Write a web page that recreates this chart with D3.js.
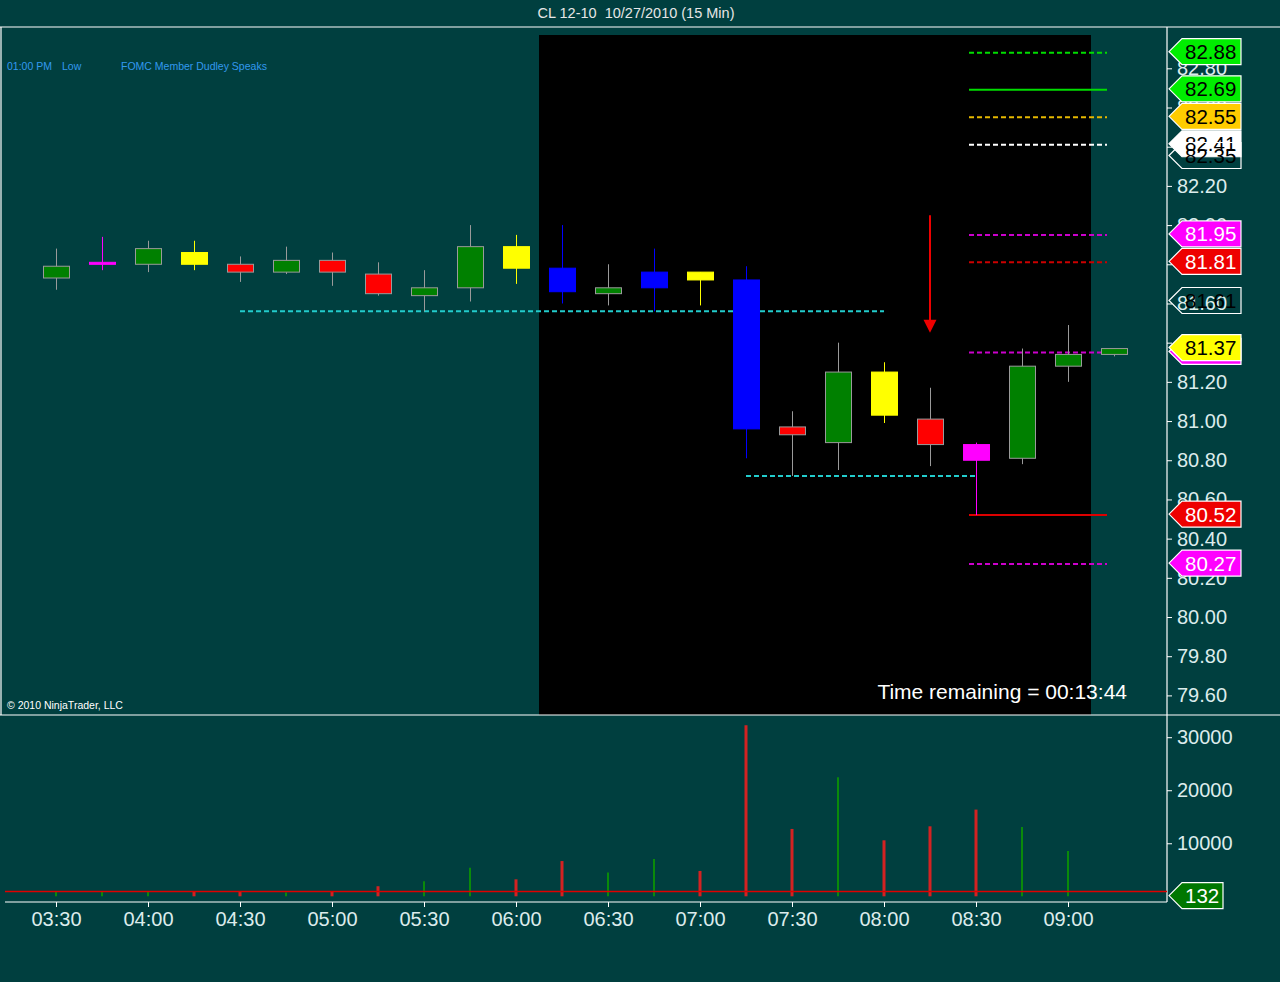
<!DOCTYPE html>
<html>
<head>
<meta charset="utf-8">
<script src="https://cdn.jsdelivr.net/npm/d3@7/dist/d3.min.js"></script>
<style>
    html, body { margin: 0; padding: 0; background: #003f3f; }
    svg { display: block; font-family: "Liberation Sans", Arial, sans-serif; }
    .axis text { fill: #dcecec; font-size: 20px; }
    .axis line { stroke: #ffffff; }
    .axis path { display: none; }
</style>
</head>
<body>
<svg id="chart" width="1280" height="982"></svg>
<script>
(function() {
    'use strict';

    // bar times, 15 min
    var times = ['03:30', '03:45', '04:00', '04:15', '04:30', '04:45', '05:00', '05:15',
                 '05:30', '05:45', '06:00', '06:15', '06:30', '06:45', '07:00', '07:15',
                 '07:30', '07:45', '08:00', '08:15', '08:30', '08:45', '09:00', '09:15'];
    var opens  = [81.73, 81.80, 81.80, 81.86, 81.80, 81.76, 81.82, 81.75, 81.64, 81.68, 81.89, 81.78,
                  81.65, 81.68, 81.76, 81.72, 80.97, 80.89, 81.25, 81.01, 80.88, 80.81, 81.28, 81.34];
    var highs  = [81.88, 81.94, 81.92, 81.92, 81.84, 81.89, 81.86, 81.81, 81.77, 82.00, 81.95, 82.00,
                  81.80, 81.88, 81.76, 81.79, 81.05, 81.40, 81.30, 81.17, 80.89, 81.37, 81.49, 81.37];
    var lows   = [81.67, 81.77, 81.76, 81.77, 81.71, 81.75, 81.69, 81.64, 81.56, 81.61, 81.70, 81.60,
                  81.59, 81.56, 81.59, 80.81, 80.72, 80.75, 80.99, 80.77, 80.52, 80.78, 81.20, 81.33];
    var closes = [81.79, 81.81, 81.88, 81.80, 81.76, 81.82, 81.76, 81.65, 81.68, 81.89, 81.78, 81.66,
                  81.68, 81.76, 81.72, 80.96, 80.93, 81.25, 81.03, 80.88, 80.80, 81.28, 81.34, 81.37];
    var paint  = ['green', 'magenta', 'green', 'yellow', 'red', 'green', 'red', 'red', 'green', 'green',
                  'yellow', 'blue', 'green', 'blue', 'yellow', 'blue', 'red', 'green', 'yellow', 'red',
                  'magenta', 'green', 'green', 'green'];
    var volumes = [800, 800, 800, 1000, 1000, 700, 900, 1900, 2850, 5400, 3200, 6650,
                   4470, 7050, 4780, 32260, 12700, 22450, 10560, 13200, 16350, 13080, 8550, 132];
    var volDir  = ['up', 'up', 'up', 'down', 'down', 'up', 'down', 'down', 'up', 'up', 'down', 'down',
                   'up', 'up', 'down', 'down', 'down', 'up', 'down', 'down', 'down', 'up', 'up', 'up'];
    var volumeRefLevel = 900;
    var lastVolume = 132;

    var priceTicks = [79.6, 79.8, 80.0, 80.2, 80.4, 80.6, 80.8, 81.0, 81.2, 81.4, 81.6, 81.8,
                      82.0, 82.2, 82.4, 82.6, 82.8];
    var volumeTicks = [10000, 20000, 30000];

    // session shading
    var sessionFrom = '06:15', sessionTo = '09:00';

    // cyan dashed levels
    var cyanLevels = [81.56, 80.72];
    var cyanFrom   = ['04:30', '07:15'];
    var cyanTo     = ['08:00', '08:30'];

    // right side pivot lines
    var pivotPrices = [82.88, 82.69, 82.55, 82.41, 81.95, 81.81, 81.35, 80.52, 80.27];
    var pivotKinds  = ['g', 'gs', 'gold', 'w', 'm', 'dr', 'm', 'rs', 'm'];
    var pivotFrom = '08:30', pivotTo = '09:15';

    // right axis markers, drawn in this order
    var markerPrices = [82.88, 82.69, 82.55, 82.41, 82.35, 81.95, 81.81, 81.61, 81.35, 81.37, 80.52, 80.27];
    var markerKinds  = ['g', 'g', 'gold', 'w', 'o', 'm', 'r', 'o', 'm', 'y', 'r', 'm'];

    // signal arrow
    var arrowTime = '08:15', arrowFrom = 82.05, arrowTo = 81.45;

    var styles = {
        g:    {line: '#00dd00', dash: '5,3', fill: '#00ee00', text: '#000'},
        gs:   {line: '#00dd00', dash: null},
        gold: {line: '#e6b800', dash: '5,3', fill: '#ffcc00', text: '#000'},
        w:    {line: '#ffffff', dash: '5,3', fill: '#ffffff', text: '#000'},
        o:    {fill: 'none', text: '#000'},
        m:    {line: '#cc00cc', dash: '5,3', fill: '#ff00ff', text: '#fff'},
        dr:   {line: '#cc0000', dash: '5,3'},
        r:    {fill: '#ee0000', text: '#fff'},
        rs:   {line: '#dd0000', dash: null},
        y:    {fill: '#ffff00', text: '#000'}
    };
    var candleColors = {
        green:   {body: '#008000', wick: '#9a9a9a'},
        red:     {body: '#ff0000', wick: '#9a9a9a'},
        yellow:  {body: '#ffff00', wick: '#ffff00'},
        blue:    {body: '#0000ff', wick: '#0000ff'},
        magenta: {body: '#ff00ff', wick: '#ff00ff'}
    };

    var parse = d3.timeParse('%H:%M');
    var bars = times.map(function(t, i) {
        return {t: parse(t), o: opens[i], h: highs[i], l: lows[i], c: closes[i],
                paint: paint[i], v: volumes[i], dir: volDir[i]};
    });

    var svg = d3.select('#chart');
    var W = 1280, axisX = 1167;
    var priceTop = 35, priceBottom = 715, volTop = 716, volBottom = 902;

    var x = d3.scaleTime()
        .domain([parse('03:30'), parse('09:15')])
        .range([56, 1114]);
    var halfBar = (x(parse('03:45')) - x(parse('03:30'))) / 2;
    var y = d3.scaleLinear().domain([79.5, 82.97]).range([priceBottom, priceTop]);
    var yv = d3.scaleLinear().domain([0, 34000]).range([896.3, volTop]);

    svg.append('rect').attr('width', W).attr('height', 982).attr('fill', '#003f3f');

    // title
    svg.append('text')
        .attr('x', 636).attr('y', 18)
        .attr('text-anchor', 'middle')
        .attr('fill', '#e6e6e6')
        .style('font-size', '14.5px')
        .style('white-space', 'pre')
        .text('CL 12-10  10/27/2010 (15 Min)');

    // session background
    svg.append('rect')
        .attr('x', x(parse(sessionFrom)) - halfBar)
        .attr('y', priceTop)
        .attr('width', x(parse(sessionTo)) - x(parse(sessionFrom)) + 2 * halfBar)
        .attr('height', priceBottom - priceTop)
        .attr('fill', '#000000');

    // frame
    var frame = svg.append('g').attr('stroke', '#ffffff').attr('stroke-width', 1.2);
    frame.append('line').attr('x1', 0).attr('x2', W).attr('y1', 27).attr('y2', 27);
    frame.append('line').attr('x1', 1).attr('x2', 1).attr('y1', 27).attr('y2', priceBottom);
    frame.append('line').attr('x1', 0).attr('x2', W).attr('y1', priceBottom).attr('y2', priceBottom);
    frame.append('line').attr('x1', 5).attr('x2', axisX).attr('y1', volBottom).attr('y2', volBottom);
    frame.append('line').attr('x1', axisX).attr('x2', axisX).attr('y1', 27).attr('y2', volBottom);

    // event text
    var ev = svg.append('g').attr('fill', '#3399ee').style('font-size', '10.5px');
    ev.append('text').attr('x', 7).attr('y', 70).text('01:00 PM');
    ev.append('text').attr('x', 62).attr('y', 70).text('Low');
    ev.append('text').attr('x', 121).attr('y', 70).text('FOMC Member Dudley Speaks');

    svg.append('text')
        .attr('x', 7).attr('y', 709)
        .attr('fill', '#ffffff')
        .style('font-size', '10.5px')
        .text('\u00a9 2010 NinjaTrader, LLC');

    // cyan levels
    svg.append('g').selectAll('line')
        .data(cyanLevels)
        .enter()
        .append('line')
        .attr('x1', function(d, i) { return x(parse(cyanFrom[i])); })
        .attr('x2', function(d, i) { return x(parse(cyanTo[i])); })
        .attr('y1', function(d) { return y(d); })
        .attr('y2', function(d) { return y(d); })
        .attr('stroke', '#22cccc')
        .attr('stroke-width', 2)
        .attr('stroke-dasharray', '5,3');

    // pivot lines
    svg.append('g').selectAll('line')
        .data(pivotPrices)
        .enter()
        .append('line')
        .attr('x1', x(parse(pivotFrom)) - 7)
        .attr('x2', x(parse(pivotTo)) - 7)
        .attr('y1', function(d) { return y(d); })
        .attr('y2', function(d) { return y(d); })
        .attr('stroke', function(d, i) { return styles[pivotKinds[i]].line; })
        .attr('stroke-width', 2)
        .attr('stroke-dasharray', function(d, i) { return styles[pivotKinds[i]].dash; });

    // candles
    var candle = svg.append('g').selectAll('g')
        .data(bars)
        .enter()
        .append('g');
    candle.append('line')
        .attr('x1', function(d) { return Math.round(x(d.t)) + 0.5; })
        .attr('x2', function(d) { return Math.round(x(d.t)) + 0.5; })
        .attr('y1', function(d) { return y(d.h); })
        .attr('y2', function(d) { return y(d.l); })
        .attr('stroke', function(d) { return candleColors[d.paint].wick; })
        .attr('stroke-width', 1);
    candle.append('rect')
        .attr('x', function(d) { return Math.round(x(d.t)) - 12.5; })
        .attr('width', 26)
        .attr('y', function(d) { return y(Math.max(d.o, d.c)); })
        .attr('height', function(d) { return Math.max(2, Math.abs(y(d.o) - y(d.c))); })
        .attr('fill', function(d) { return candleColors[d.paint].body; })
        .attr('stroke', function(d) { return candleColors[d.paint].wick; })
        .attr('stroke-width', 1);

    // signal arrow
    var ax = x(parse(arrowTime));
    svg.append('line')
        .attr('x1', ax).attr('x2', ax)
        .attr('y1', y(arrowFrom)).attr('y2', y(arrowTo) - 10)
        .attr('stroke', '#ee0000').attr('stroke-width', 2);
    svg.append('path')
        .attr('d', 'M' + (ax - 6.5) + ',' + (y(arrowTo) - 13) + 'L' + (ax + 6.5) + ',' + (y(arrowTo) - 13) +
                   'L' + ax + ',' + y(arrowTo) + 'Z')
        .attr('fill', '#ee0000');

    svg.append('text')
        .attr('x', 1127).attr('y', 699)
        .attr('text-anchor', 'end')
        .attr('fill', '#ffffff')
        .style('font-size', '21px')
        .text('Time remaining = 00:13:44');

    // volume
    svg.append('g').selectAll('line')
        .data(bars.filter(function(d) { return d.v > 500; }))
        .enter()
        .append('line')
        .attr('x1', function(d) { return x(d.t); })
        .attr('x2', function(d) { return x(d.t); })
        .attr('y1', yv(0))
        .attr('y2', function(d) { return yv(d.v); })
        .attr('stroke', function(d) { return d.dir === 'up' ? '#0a8a0a' : '#d42222'; })
        .attr('stroke-width', function(d) { return d.dir === 'up' ? 2 : 3; });
    svg.append('line')
        .attr('x1', 5).attr('x2', axisX)
        .attr('y1', yv(volumeRefLevel)).attr('y2', yv(volumeRefLevel))
        .attr('stroke', '#e00000').attr('stroke-width', 1.5);

    // axes
    svg.append('g')
        .attr('class', 'axis')
        .attr('transform', 'translate(' + axisX + ',0)')
        .call(d3.axisRight(y).tickValues(priceTicks).tickSize(5).tickPadding(5).tickFormat(d3.format('.2f')));
    svg.append('g')
        .attr('class', 'axis')
        .attr('transform', 'translate(' + axisX + ',0)')
        .call(d3.axisRight(yv).tickValues(volumeTicks).tickSize(5).tickPadding(5).tickFormat(d3.format('d')));
    svg.append('g')
        .attr('class', 'axis')
        .attr('transform', 'translate(0,' + volBottom + ')')
        .call(d3.axisBottom(x).ticks(d3.timeMinute.every(30)).tickSize(5).tickPadding(5)
            .tickFormat(d3.timeFormat('%H:%M')));

    // value markers on the right axis
    function marker(cy, w, fill, textColor, label) {
        var g = svg.append('g');
        var x0 = axisX + 2, x1 = axisX + 15, x2 = axisX + 15 + w;
        g.append('path')
            .attr('d', 'M' + x0 + ',' + cy + 'L' + x1 + ',' + (cy - 13) + 'L' + x2 + ',' + (cy - 13) +
                       'L' + x2 + ',' + (cy + 13) + 'L' + x1 + ',' + (cy + 13) + 'Z')
            .attr('fill', fill)
            .attr('stroke', '#ffffff')
            .attr('stroke-width', 1.2);
        g.append('text')
            .attr('x', x1 + 3).attr('y', cy + 7.5)
            .attr('fill', textColor)
            .style('font-size', '20.5px')
            .text(label);
    }
    markerPrices.forEach(function(p, i) {
        var s = styles[markerKinds[i]];
        marker(y(p) - 1, 59, s.fill, s.text, p.toFixed(2));
    });
    marker(yv(lastVolume), 41, '#007700', '#ffffff', String(lastVolume));
})();
</script>
</body>
</html>
